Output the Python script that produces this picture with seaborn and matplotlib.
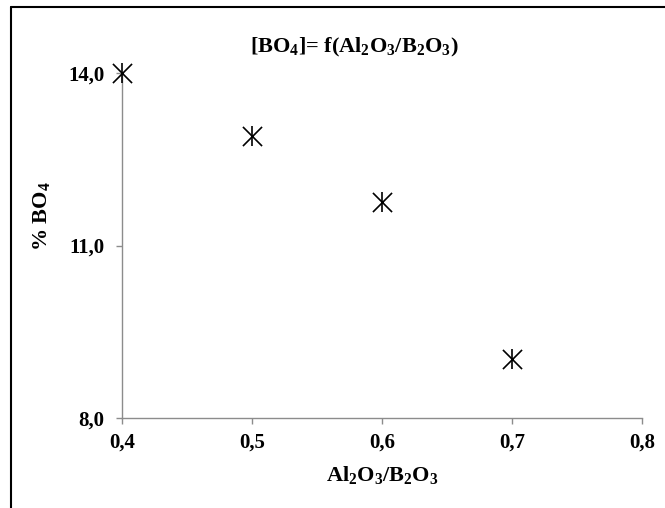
import matplotlib
matplotlib.use("Agg")
import matplotlib.pyplot as plt
import seaborn as sns
import pandas as pd
from matplotlib.lines import Line2D
from matplotlib.ticker import FuncFormatter

ratio = [0.4, 0.5, 0.6, 0.7]
bo4 = [14.0, 12.9, 11.75, 9.03]
x_ticks = [0.4, 0.5, 0.6, 0.7, 0.8]
y_ticks = [8.0, 11.0, 14.0]

sns.set_theme(style="white")
plt.rcParams['font.family'] = ['Liberation Serif', 'DejaVu Serif']
plt.rcParams['font.weight'] = 'bold'
plt.rcParams['mathtext.default'] = 'regular'

df = pd.DataFrame({"ratio": ratio, "bo4": bo4})

fig = plt.figure(figsize=(6.65, 5.08), dpi=100)
ax = fig.add_axes([122/665, 1-418/508, (642-122)/665, (418-73)/508])

sns.scatterplot(data=df, x="ratio", y="bo4", marker="x", s=190, color="black",
                linewidth=1.2, ax=ax, clip_on=False, zorder=5)
sns.scatterplot(data=df, x="ratio", y="bo4", marker="|", s=190, color="black",
                linewidth=1.2, ax=ax, clip_on=False, zorder=5)

ax.set_xlim(0.4, 0.8)
ax.set_ylim(8.0, 14.0)
ax.set_xticks(x_ticks)
ax.set_yticks(y_ticks)
ax.xaxis.set_major_formatter(FuncFormatter(lambda v, p: f"{v:.1f}".replace(".", ",")))
ax.yaxis.set_major_formatter(FuncFormatter(lambda v, p: f"{v:.1f}".replace(".", ",")))

for side in ["top", "right"]:
    ax.spines[side].set_visible(False)
for side in ["left", "bottom"]:
    ax.spines[side].set_color("#8c8c8c")
    ax.spines[side].set_linewidth(1.0)

ax.tick_params(axis="both", which="major", direction="out", length=4.5, width=1.0,
               color="#8c8c8c", labelsize=15, labelcolor="black",
               bottom=True, left=True)
for lab in ax.get_xticklabels() + ax.get_yticklabels():
    lab.set_fontweight("bold")
ax.tick_params(axis="x", pad=6)
ax.tick_params(axis="y", pad=8)

ax.set_xlabel("Al$_2$O$_3$/B$_2$O$_3$", fontsize=16, fontweight="bold", color="black")
ax.set_ylabel("% BO$_4$", fontsize=16, fontweight="bold", color="black")
ax.xaxis.set_label_coords((382-122)/520, -(464-418)/345)
ax.yaxis.set_label_coords((52-122)/520, (418-216)/345)

fig.text(354/665, 1-52/508, "[BO$_4$]= f(Al$_2$O$_3$/B$_2$O$_3$)", ha="center", va="baseline",
         fontsize=16, fontweight="bold", color="black")

fig.add_artist(Line2D([11/665, 11/665], [0, 1-7/508], transform=fig.transFigure,
                      color="black", linewidth=1.5))
fig.add_artist(Line2D([11/665, 1], [1-7/508, 1-7/508], transform=fig.transFigure,
                      color="black", linewidth=1.5))

fig.savefig("out.png", dpi=100)
